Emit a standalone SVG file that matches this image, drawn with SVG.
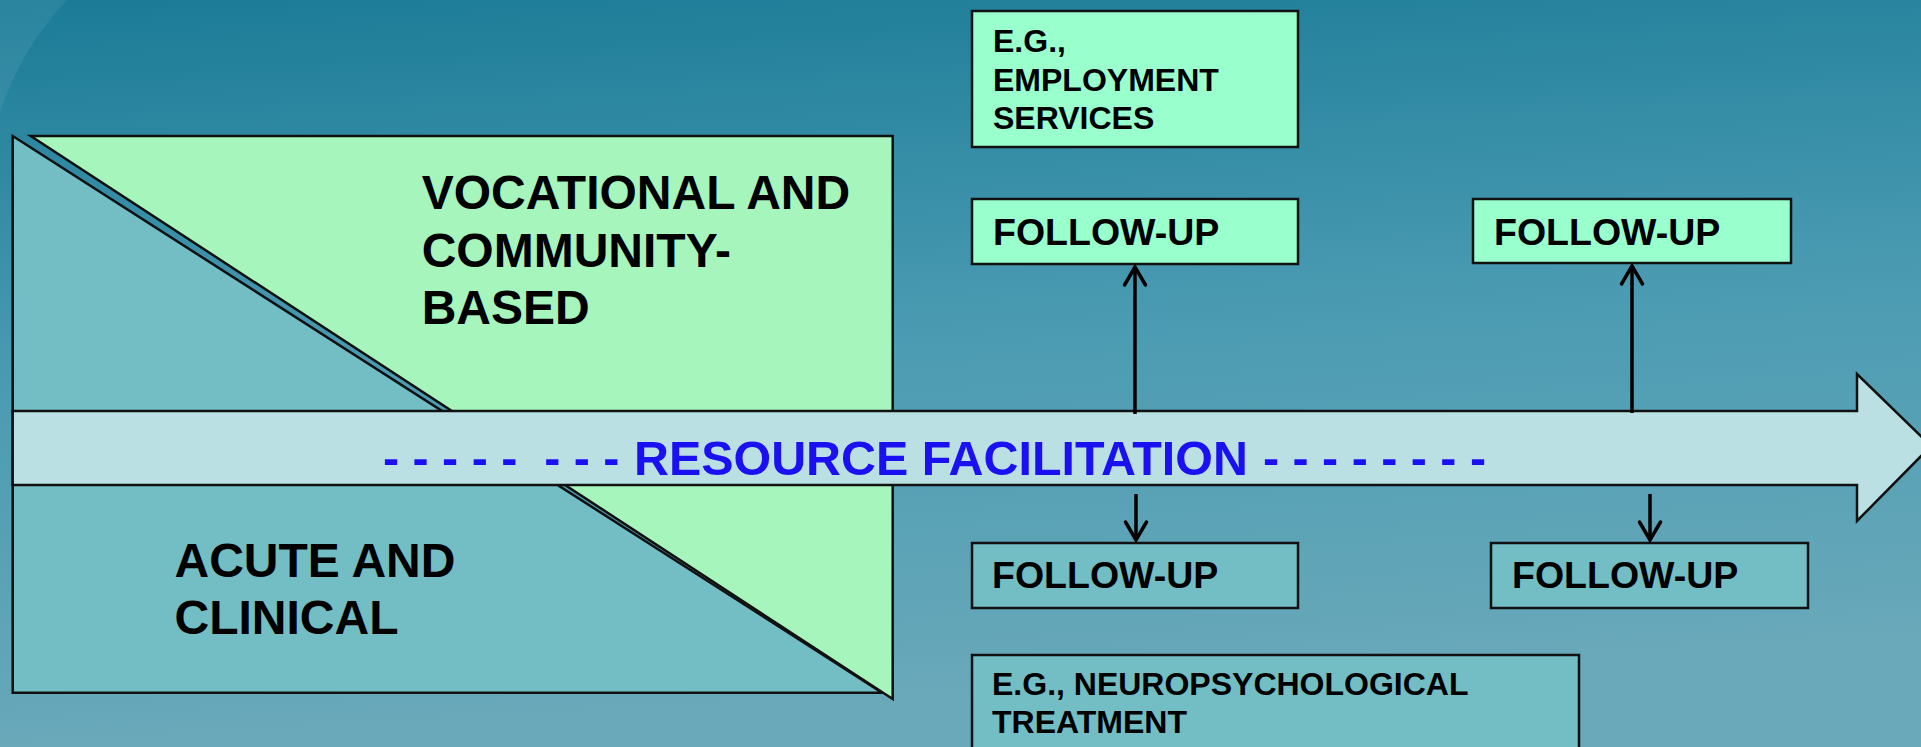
<svg xmlns="http://www.w3.org/2000/svg" width="1921" height="747" viewBox="0 0 1921 747">
  <defs>
    <linearGradient id="bg" x1="0" y1="0" x2="0.15" y2="1">
      <stop offset="0" stop-color="#1b7b97"/>
      <stop offset="0.5" stop-color="#4a9bb2"/>
      <stop offset="1" stop-color="#6aa9ba"/>
    </linearGradient>
    <marker id="ah" markerUnits="userSpaceOnUse" markerWidth="30" markerHeight="30" refX="0" refY="0" orient="auto" overflow="visible">
      <path d="M -18 -10.5 L 0 0 L -18 10.5" fill="none" stroke="#000" stroke-width="3.5" stroke-linecap="round" stroke-linejoin="miter"/>
    </marker>
  </defs>
  <style>
    .lbl { font-family: "Liberation Sans", Arial, sans-serif; font-weight: bold; fill: #000; }
    .big { font-size: 48px; }
    .fu { font-size: 37.5px; }
    .small { font-size: 32px; }
    .rf { font-family: "Liberation Sans", Arial, sans-serif; font-weight: bold; font-size: 48.4px; fill: #1a10f2; white-space: pre; }
    .edge { stroke: #111; stroke-width: 2.5; }
    .mint { fill: #99ffcc; }
    .teal { fill: #72bec4; }
    .conn { stroke: #000; stroke-width: 3.5; fill: none; marker-end: url(#ah); }
  </style>

  <rect x="0" y="0" width="1921" height="747" fill="url(#bg)"/>
  <path d="M 0 0 L 67 0 A 300 300 0 0 0 0 112 Z" fill="#ffffff" fill-opacity="0.07"/>

  <g id="acute-clinical">
    <polygon points="12.7,136 12.7,692.7 882,692.7" fill="#72bec4" class="edge"/>
    <text class="lbl big" x="174.5" y="577">ACUTE AND</text>
    <text class="lbl big" x="174.5" y="634">CLINICAL</text>
  </g>
  <g id="vocational-community">
    <polygon points="30.7,136 892.7,136 892.7,699" fill="#a6f5bd" class="edge"/>
  </g>

  <g id="resource-facilitation">
    <polygon points="12.7,411 1857,411 1857,374 1931,446 1857,521 1857,485 12.7,485" fill="#bae0e3" class="edge"/>
    <text class="rf" x="383" y="475" xml:space="preserve">- - - - -  - - -</text>
    <text class="rf" x="634" y="475">RESOURCE FACILITATION</text>
    <text class="rf" x="1263" y="475">- - - - - - - -</text>
  </g>

  <g id="vocational-label">
    <text class="lbl big" x="421.7" y="209">VOCATIONAL AND</text>
    <text class="lbl big" x="421.7" y="267">COMMUNITY-</text>
    <text class="lbl big" x="421.7" y="324">BASED</text>
  </g>

  <g id="employment-services">
    <rect x="972" y="11" width="326" height="136" class="mint edge"/>
    <text class="lbl small" x="993" y="52">E.G.,</text>
    <text class="lbl small" x="993" y="91">EMPLOYMENT</text>
    <text class="lbl small" x="993" y="129">SERVICES</text>
  </g>

  <g id="follow-up-top-1">
    <rect x="972" y="199" width="326" height="65" class="mint edge"/>
    <text class="lbl fu" x="993" y="245">FOLLOW-UP</text>
  </g>

  <g id="follow-up-top-2">
    <rect x="1473" y="199" width="318" height="64" class="mint edge"/>
    <text class="lbl fu" x="1494" y="245">FOLLOW-UP</text>
  </g>

  <g id="follow-up-bottom-1">
    <rect x="972" y="543" width="326" height="65" class="teal edge"/>
    <text class="lbl fu" x="992" y="588">FOLLOW-UP</text>
  </g>

  <g id="follow-up-bottom-2">
    <rect x="1491" y="543" width="317" height="65" class="teal edge"/>
    <text class="lbl fu" x="1512" y="588">FOLLOW-UP</text>
  </g>

  <g id="neuropsychological-treatment">
    <rect x="972" y="655" width="607" height="110" class="teal edge"/>
    <text class="lbl small" x="992" y="695">E.G., NEUROPSYCHOLOGICAL</text>
    <text class="lbl small" x="992" y="733">TREATMENT</text>
  </g>

  <g id="connectors">
    <line x1="1135" y1="414" x2="1135" y2="267" class="conn"/>
    <line x1="1632" y1="413" x2="1632" y2="266" class="conn"/>
    <line x1="1136" y1="494" x2="1136" y2="540" class="conn"/>
    <line x1="1650" y1="494" x2="1650" y2="540" class="conn"/>
  </g>
</svg>
